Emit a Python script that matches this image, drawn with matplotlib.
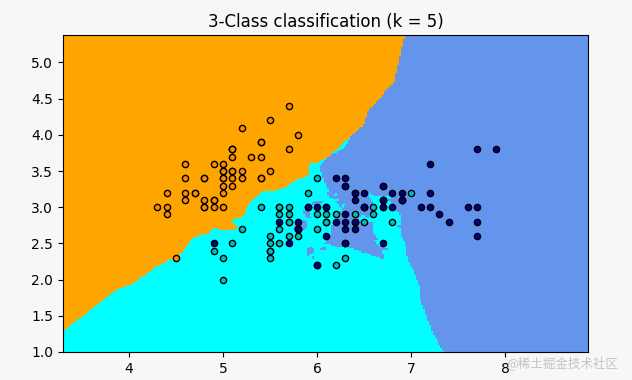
import numpy as np
import matplotlib
matplotlib.use('Agg')
import matplotlib.pyplot as plt
from matplotlib.colors import ListedColormap

# iris: sepal length / sepal width, per class
setosa_x = [5.1, 4.9, 4.7, 4.6, 5.0, 5.4, 4.6, 5.0, 4.4, 4.9, 5.4, 4.8, 4.8, 4.3, 5.8, 5.7, 5.4,
            5.1, 5.7, 5.1, 5.4, 5.1, 4.6, 5.1, 4.8, 5.0, 5.0, 5.2, 5.2, 4.7, 4.8, 5.4, 5.2, 5.5,
            4.9, 5.0, 5.5, 4.9, 4.4, 5.1, 5.0, 4.5, 4.4, 5.0, 5.1, 4.8, 5.1, 4.6, 5.3, 5.0]
setosa_y = [3.5, 3.0, 3.2, 3.1, 3.6, 3.9, 3.4, 3.4, 2.9, 3.1, 3.7, 3.4, 3.0, 3.0, 4.0, 4.4, 3.9,
            3.5, 3.8, 3.8, 3.4, 3.7, 3.6, 3.3, 3.4, 3.0, 3.4, 3.5, 3.4, 3.2, 3.1, 3.4, 4.1, 4.2,
            3.1, 3.2, 3.5, 3.6, 3.0, 3.4, 3.5, 2.3, 3.2, 3.5, 3.8, 3.0, 3.8, 3.2, 3.7, 3.3]
versicolor_x = [7.0, 6.4, 6.9, 5.5, 6.5, 5.7, 6.3, 4.9, 6.6, 5.2, 5.0, 5.9, 6.0, 6.1, 5.6, 6.7, 5.6,
                5.8, 6.2, 5.6, 5.9, 6.1, 6.3, 6.1, 6.4, 6.6, 6.8, 6.7, 6.0, 5.7, 5.5, 5.5, 5.8, 6.0,
                5.4, 6.0, 6.7, 6.3, 5.6, 5.5, 5.5, 6.1, 5.8, 5.0, 5.6, 5.7, 5.7, 6.2, 5.1, 5.7]
versicolor_y = [3.2, 3.2, 3.1, 2.3, 2.8, 2.8, 3.3, 2.4, 2.9, 2.7, 2.0, 3.0, 2.2, 2.9, 2.9, 3.1, 3.0,
                2.7, 2.2, 2.5, 3.2, 2.8, 2.5, 2.8, 2.9, 3.0, 2.8, 3.0, 2.9, 2.6, 2.4, 2.4, 2.7, 2.7,
                3.0, 3.4, 3.1, 2.3, 3.0, 2.5, 2.6, 3.0, 2.6, 2.3, 2.7, 3.0, 2.9, 2.9, 2.5, 2.8]
virginica_x = [6.3, 5.8, 7.1, 6.3, 6.5, 7.6, 4.9, 7.3, 6.7, 7.2, 6.5, 6.4, 6.8, 5.7, 5.8, 6.4, 6.5,
               7.7, 7.7, 6.0, 6.9, 5.6, 7.7, 6.3, 6.7, 7.2, 6.2, 6.1, 6.4, 7.2, 7.4, 7.9, 6.4, 6.3,
               6.1, 7.7, 6.3, 6.4, 6.0, 6.9, 6.7, 6.9, 5.8, 6.8, 6.7, 6.7, 6.3, 6.5, 6.2, 5.9]
virginica_y = [3.3, 2.7, 3.0, 2.9, 3.0, 3.0, 2.5, 2.9, 2.5, 3.6, 3.2, 2.7, 3.0, 2.5, 2.8, 3.2, 3.0,
               3.8, 2.6, 2.2, 3.2, 2.8, 2.8, 2.7, 3.3, 3.2, 2.8, 3.0, 2.8, 3.0, 2.8, 3.8, 2.8, 2.8,
               2.6, 3.0, 3.4, 3.1, 3.0, 3.1, 3.1, 3.1, 2.7, 3.2, 3.3, 3.0, 2.5, 3.0, 3.4, 3.0]

n_neighbors = 5
h = 0.02

X = np.column_stack([setosa_x + versicolor_x + virginica_x,
                     setosa_y + versicolor_y + virginica_y])
y = np.array([0] * len(setosa_x) + [1] * len(versicolor_x) + [2] * len(virginica_x))

cmap_light = ListedColormap(['orange', 'cyan', 'cornflowerblue'])
cmap_bold = ['darkorange', 'c', 'darkblue']

x_min, x_max = X[:, 0].min() - 1, X[:, 0].max() + 1
y_min, y_max = X[:, 1].min() - 1, X[:, 1].max() + 1
xx, yy = np.meshgrid(np.arange(x_min, x_max, h), np.arange(y_min, y_max, h))
grid = np.c_[xx.ravel(), yy.ravel()]

# plain knn, uniform weights
d = ((grid[:, None, :] - X[None, :, :]) ** 2).sum(axis=2)
idx = np.argsort(d, axis=1, kind='stable')[:, :n_neighbors]
votes = np.zeros((grid.shape[0], 3), dtype=int)
for j in range(n_neighbors):
    votes[np.arange(grid.shape[0]), y[idx[:, j]]] += 1
Z = votes.argmax(axis=1).reshape(xx.shape)

fig = plt.figure(figsize=(6.32, 3.8), dpi=100, facecolor='#f7f7f7')
ax = fig.add_axes([0.0997, 0.0737, 0.8307, 0.8343])
ax.pcolormesh(xx, yy, Z, cmap=cmap_light, shading='auto')

for k, (px, py) in enumerate([(setosa_x, setosa_y), (versicolor_x, versicolor_y),
                               (virginica_x, virginica_y)]):
    ax.scatter(px, py, c=cmap_bold[k], edgecolor='k', s=20, linewidths=1)

ax.set_xlim(xx.min(), xx.max())
ax.set_ylim(yy.min(), yy.max())
ax.set_title("3-Class classification (k = %i)" % n_neighbors, fontsize=12)

fig.text(0.978, 0.045, '@稀土掘金技术社区', ha='right', va='center', fontsize=9,
         color='#c4c4c4', family=['Noto Sans CJK SC', 'DejaVu Sans'])

plt.savefig('out.png', dpi=100, facecolor=fig.get_facecolor())
